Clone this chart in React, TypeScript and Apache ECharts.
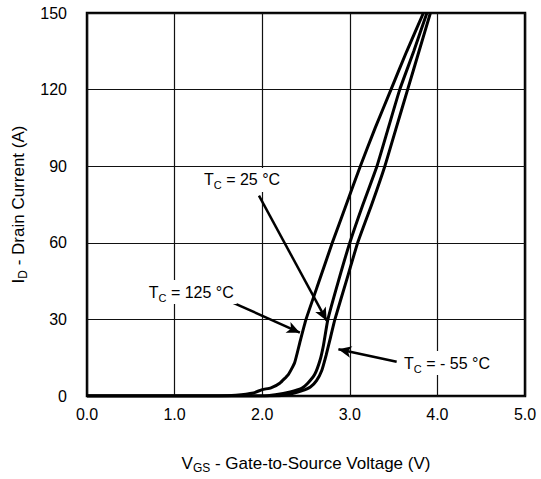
import React, { useEffect, useRef } from "react";
import * as echarts from "echarts";

const xTicks = [0, 1, 2, 3, 4, 5];
const yTicks = [0, 30, 60, 90, 120, 150];

const v125 = [0, 1.5, 1.7, 1.9, 2.0, 2.1, 2.2, 2.3, 2.37, 2.43, 2.5, 2.65, 2.8, 2.96, 3.12, 3.29, 3.47, 3.65, 3.84];
const i125 = [0, 0, 0.3, 1.2, 2.5, 3.2, 5, 8.5, 13, 21, 30, 45, 60, 75, 90, 105, 120, 135, 150];

const v25 = [0, 2.0, 2.15, 2.32, 2.45, 2.52, 2.6, 2.66, 2.7, 2.75, 2.87, 3.0, 3.15, 3.31, 3.44, 3.57, 3.73, 3.88];
const i25 = [0, 0, 0.5, 1.6, 3, 5, 8.5, 14, 20, 30, 45, 60, 75, 90, 105, 120, 135, 150];

const vm55 = [0, 2.1, 2.3, 2.45, 2.55, 2.62, 2.68, 2.73, 2.78, 2.83, 2.96, 3.09, 3.25, 3.4, 3.53, 3.66, 3.79, 3.92];
const im55 = [0, 0, 0.6, 2, 3.5, 6, 10, 16, 23, 30, 45, 60, 75, 90, 105, 120, 135, 150];

const labels = [
  { main: "T", sub: "C", rest: " = 25 °C", at: [1.77, 84.6], from: [1.963, 78.5], to: [2.736, 29.5] },
  { main: "T", sub: "C", rest: " = 125 °C", at: [1.19, 40.7], from: [1.67, 36.5], to: [2.43, 24.8] },
  { main: "T", sub: "C", rest: " = - 55 °C", at: [4.11, 12.9], from: [3.535, 13.4], to: [2.87, 18.3] },
];

const FONT = "'Liberation Sans', Arial, Helvetica, sans-serif";

const zip = (xs: number[], ys: number[]) => xs.map((x, k) => [x, ys[k]]);

export default function App() {
  const ref = useRef<HTMLDivElement>(null);
  useEffect(() => {
    document.body.style.margin = "0";
    if (!ref.current) return;
    const chart = echarts.init(ref.current, undefined, { renderer: "svg" });
    const lineSeries = (data: number[][], arrow: any) => ({
      type: "line",
      data,
      symbol: "none",
      smooth: 0.15,
      lineStyle: { color: "#000", width: 3 },
      markLine: {
        silent: true,
        symbol: ["none", "arrow"],
        symbolSize: [9, 13],
        label: { show: false },
        lineStyle: { color: "#000", width: 2.5, type: "solid" },
        data: [[{ coord: arrow.from }, { coord: arrow.to }]],
      },
    });
    const richName = {
      a: { fontSize: 17, fontFamily: FONT, color: "#000", lineHeight: 22, verticalAlign: "middle" },
      s: { fontSize: 12, fontFamily: FONT, color: "#000", lineHeight: 22, verticalAlign: "bottom" },
    };
    chart.setOption({
      animation: false,
      grid: { left: 87, right: 16, top: 13, bottom: 83, show: true, borderColor: "#000", borderWidth: 2.5 },
      xAxis: {
        type: "value",
        min: xTicks[0],
        max: xTicks[xTicks.length - 1],
        interval: 1,
        axisLine: { show: false },
        axisTick: { show: false },
        splitLine: { show: true, lineStyle: { color: "#111", width: 1.2 } },
        axisLabel: { formatter: (v: number) => v.toFixed(1), fontSize: 16, fontFamily: FONT, color: "#000", margin: 10 },
        name: "{a|V}{s|GS}{a| - Gate-to-Source Voltage (V)}",
        nameLocation: "middle",
        nameGap: 56,
        nameTextStyle: { rich: richName },
      },
      yAxis: {
        type: "value",
        min: yTicks[0],
        max: yTicks[yTicks.length - 1],
        interval: 30,
        axisLine: { show: false },
        axisTick: { show: false },
        splitLine: { show: true, lineStyle: { color: "#111", width: 1.2 } },
        axisLabel: { fontSize: 16, fontFamily: FONT, color: "#000", margin: 20 },
        name: "{a|I}{s|D}{a| - Drain Current (A)}",
        nameLocation: "middle",
        nameGap: 52,
        nameTextStyle: { rich: richName },
      },
      series: [
        lineSeries(zip(v125, i125), labels[1]),
        lineSeries(zip(v25, i25), labels[0]),
        lineSeries(zip(vm55, im55), labels[2]),
      ],
    });
    const graphic = labels.map((l) => {
      const p = chart.convertToPixel({ gridIndex: 0 }, l.at) as number[];
      return {
        type: "text",
        x: p[0],
        y: p[1],
        z: 100,
        style: {
          text: `{a|${l.main}}{s|${l.sub}}{a|${l.rest}}`,
          align: "center",
          verticalAlign: "middle",
          backgroundColor: "#fff",
          padding: [1, 3],
          rich: {
            a: { fontSize: 16, fontFamily: FONT, fill: "#000", lineHeight: 22, verticalAlign: "middle" },
            s: { fontSize: 11, fontFamily: FONT, fill: "#000", lineHeight: 22, verticalAlign: "bottom" },
          },
        },
      };
    });
    chart.setOption({ graphic });
    return () => chart.dispose();
  }, []);
  return <div ref={ref} style={{ width: 541, height: 479 }} />;
}
